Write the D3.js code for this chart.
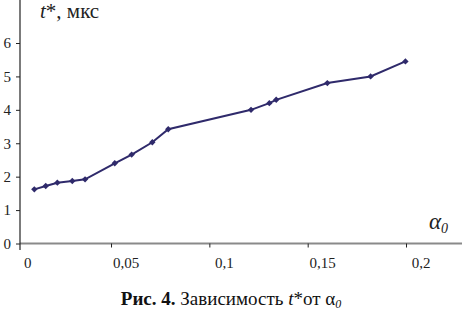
<!DOCTYPE html>
<html lang="ru">
<head>
<meta charset="utf-8">
<title>t* от alpha0</title>
<script src="https://cdn.jsdelivr.net/npm/d3@7"></script>
</head>
<body style="margin:0;background:#fff">
<script>
// values
var alpha0 = [0.011, 0.0168, 0.0227, 0.0303, 0.0368, 0.0519, 0.0605, 0.071, 0.0791,
              0.1212, 0.1305, 0.134, 0.160, 0.182, 0.1997];
var tStar  = [1.62, 1.72, 1.82, 1.87, 1.92, 2.40, 2.66, 3.03, 3.42,
              4.00, 4.20, 4.30, 4.80, 5.00, 5.45];
var xTicks = [0, 0.05, 0.1, 0.15, 0.2];
var xTickLabels = ["0", "0,05", "0,1", "0,15", "0,2"];
var yTicks = [0, 1, 2, 3, 4, 5, 6];

var W = 462, H = 313;
var svg = d3.select("body").append("svg")
    .attr("width", W).attr("height", H)
    .attr("font-family", "Liberation Serif");

var x = d3.scaleLinear().domain([0, 0.2]).range([12.7, 406]);
var y = d3.scaleLinear().domain([0, 6]).range([243.5, 43]);
var col = "#2f2a6b";

// x axis line, grey and thick
svg.append("line")
    .attr("x1", 20).attr("x2", W)
    .attr("y1", y(0)).attr("y2", y(0))
    .attr("stroke", "#8a8a8a").attr("stroke-width", 2.2);

var gx = svg.append("g")
    .attr("transform", "translate(0," + y(0) + ")")
    .call(d3.axisBottom(x).tickValues(xTicks.slice(1)).tickSize(4).tickFormat(""));
gx.attr("font-family", null);
gx.select(".domain").remove();
gx.selectAll("line").attr("stroke", "#222");

// labels sit a bit right of the ticks, as in the scan
svg.selectAll(".xlab").data(xTicks).enter().append("text")
    .attr("class", "xlab")
    .attr("x", function(d) { return x(d) + 15; })
    .attr("y", 268)
    .attr("text-anchor", "middle")
    .attr("font-size", 15)
    .attr("fill", "#222")
    .text(function(d, i) { return xTickLabels[i]; });

// y axis
svg.append("line")
    .attr("x1", 20).attr("x2", 20)
    .attr("y1", 0).attr("y2", 250)
    .attr("stroke", "#222").attr("stroke-width", 1.2);

var gy = svg.append("g")
    .attr("transform", "translate(20,0)")
    .call(d3.axisLeft(y).tickValues(yTicks).tickSize(4).tickPadding(5).tickFormat(d3.format("d")));
gy.attr("font-family", null).attr("font-size", 15);
gy.select(".domain").remove();
gy.selectAll("line").attr("stroke", "#222");
gy.selectAll("text").attr("fill", "#222");

// series
var pts = alpha0.map(function(a, i) { return [a, tStar[i]]; });
svg.append("path")
    .datum(pts)
    .attr("fill", "none")
    .attr("stroke", col)
    .attr("stroke-width", 2)
    .attr("d", d3.line().x(function(d) { return x(d[0]); }).y(function(d) { return y(d[1]); }));

svg.selectAll(".pt").data(pts).enter().append("path")
    .attr("class", "pt")
    .attr("transform", function(d) { return "translate(" + x(d[0]) + "," + y(d[1]) + ")"; })
    .attr("d", d3.symbol().type(d3.symbolDiamond2).size(26))
    .attr("fill", col);

// axis titles
var yt = svg.append("text").attr("x", 40).attr("y", 18).attr("font-size", 21).attr("fill", "#222");
yt.append("tspan").attr("font-style", "italic").text("t");
yt.append("tspan").text("*, мкс");

var xt = svg.append("text").attr("x", 429).attr("y", 229).attr("font-size", 23)
    .attr("font-style", "italic").attr("fill", "#222");
xt.append("tspan").text("α");
xt.append("tspan").attr("font-size", 14).attr("dy", 4).text("0");

// caption
var cap = svg.append("text").attr("x", 231).attr("y", 305).attr("text-anchor", "middle")
    .attr("font-size", 19).attr("fill", "#111");
cap.append("tspan").attr("font-weight", "bold").text("Рис. 4.");
cap.append("tspan").text(" Зависимость ");
cap.append("tspan").attr("font-style", "italic").text("t");
cap.append("tspan").text("*от α");
cap.append("tspan").attr("font-style", "italic").attr("font-size", 12).attr("dy", 3).text("0");
</script>
</body>
</html>
